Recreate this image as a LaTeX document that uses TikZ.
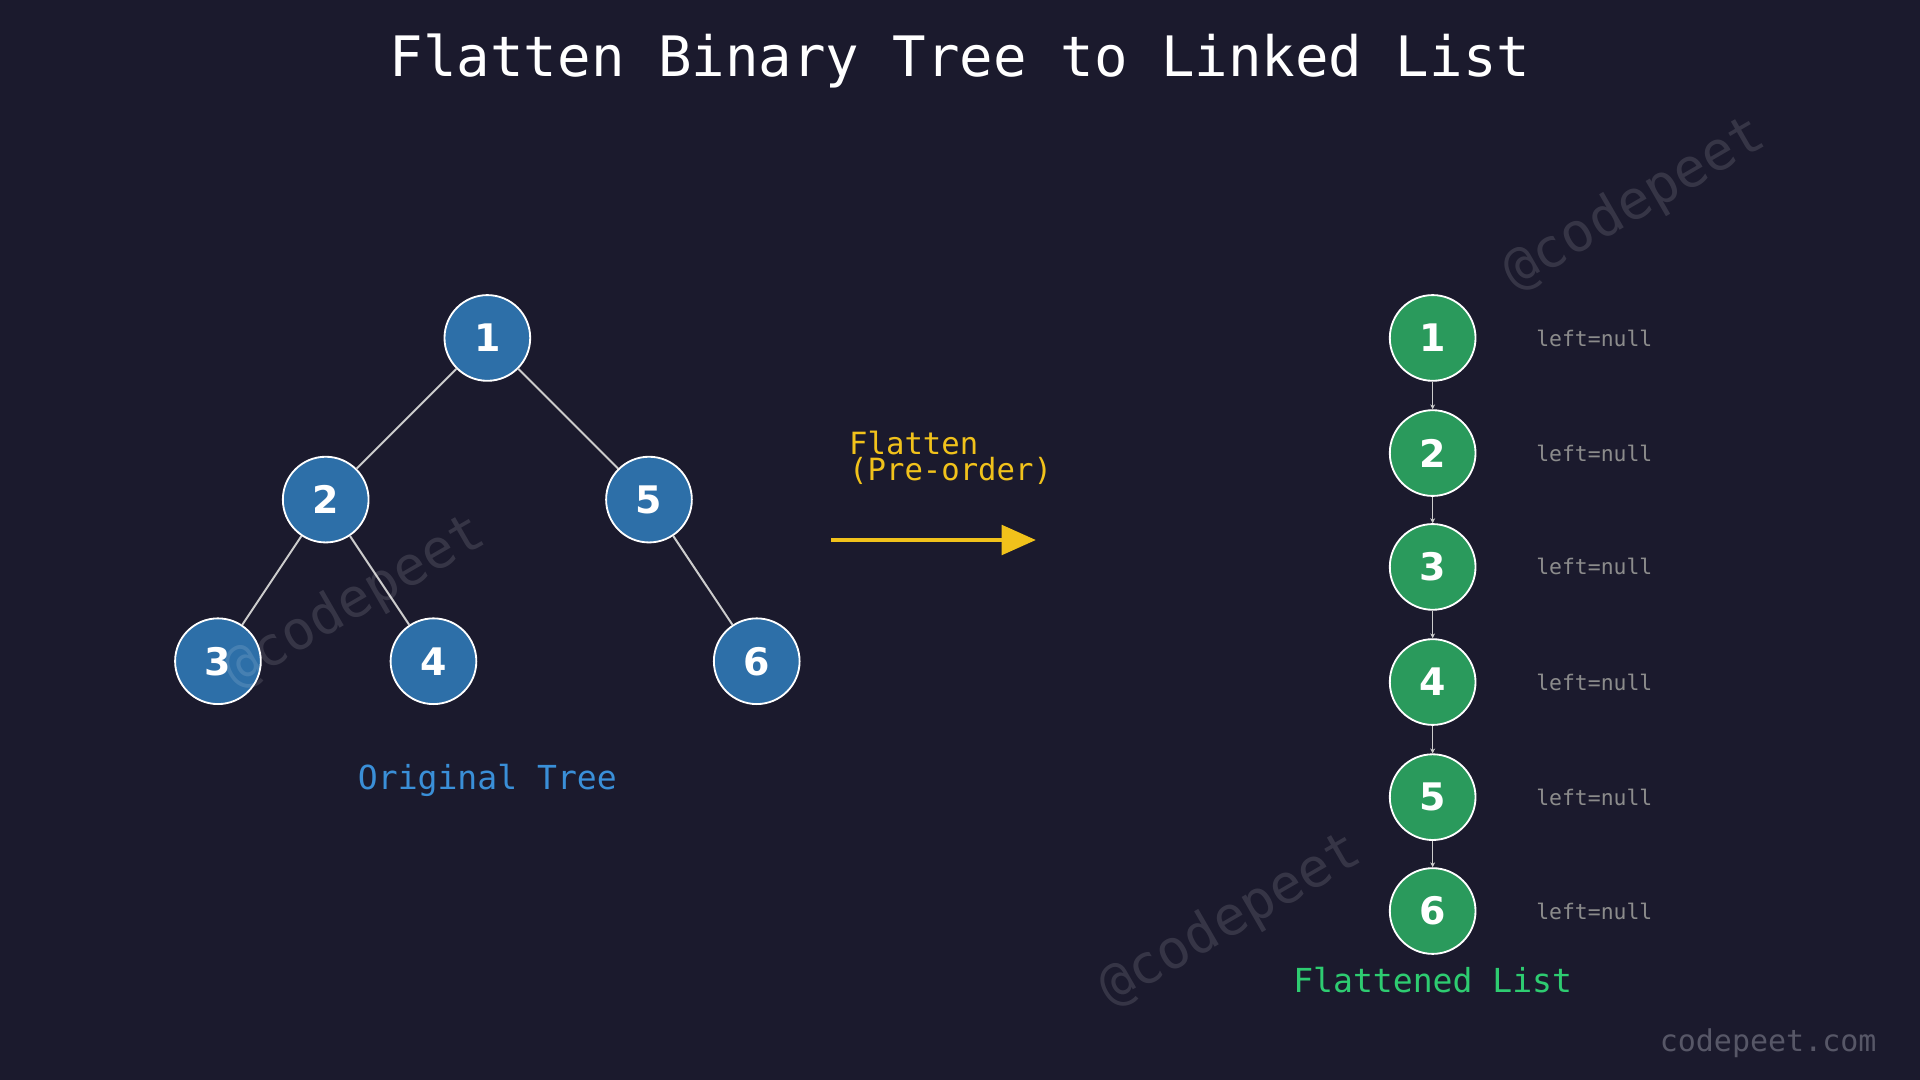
\documentclass[tikz,border=0pt]{standalone}
\usepackage{fontspec}
\setmonofont{DejaVu Sans Mono}
\setsansfont{DejaVu Sans}
\usetikzlibrary{arrows.meta}
\definecolor{bg}{HTML}{1B1A2D}
\definecolor{tblue}{HTML}{2D6FA8}
\definecolor{lgreen}{HTML}{2A9A5C}
\definecolor{ylw}{HTML}{F1C21B}
\definecolor{wm}{HTML}{3A3A4C}
\definecolor{otblue}{HTML}{3A8FD8}
\definecolor{flgreen}{HTML}{2ECC71}
\tikzset{
 tnode/.style={circle,draw=white,line width=1.5pt,fill=tblue,minimum size=70pt,inner sep=0pt,text=white,font=\sffamily\bfseries\fontsize{31}{31}\selectfont},
 lnode/.style={tnode,fill=lgreen},
 edge/.style={draw=white!80!black,line width=1.6pt},
 ledge/.style={draw=white!80!black,line width=0.8pt,-{Stealth[length=4pt,width=4pt]}},
 nul/.style={text=white!55!black,font=\ttfamily\fontsize{17.5}{17.5}\selectfont},
 wmark/.style={text=white,text opacity=0.12,rotate=30,font=\ttfamily\fontsize{44}{44}\selectfont}
}
\begin{document}
\begin{tikzpicture}[x=1pt,y=-1pt]
\fill[bg] (0,0) rectangle (1568,882);
\useasboundingbox (0,0) rectangle (1568,882);
\node[text=white,font=\ttfamily\fontsize{45.5}{45.5}\selectfont] (title) at (784,50) {Flatten Binary Tree to Linked List};
\node[tnode] (t1) at (398,276) {1};
\node[tnode] (t2) at (266,408) {2};
\node[tnode] (t5) at (530,408) {5};
\node[tnode] (t3) at (178,540) {3};
\node[tnode] (t4) at (354,540) {4};
\node[tnode] (t6) at (618,540) {6};
\draw[edge] (t1)--(t2); \draw[edge] (t1)--(t5);
\draw[edge] (t2)--(t3); \draw[edge] (t2)--(t4); \draw[edge] (t5)--(t6);
\node[text=otblue,font=\ttfamily\fontsize{27}{27}\selectfont] (ot) at (398,637) {Original Tree};
\node[text=ylw,font=\ttfamily\fontsize{25}{25}\selectfont,align=left,anchor=west] (fl) at (690,374) {Flatten\\[-4pt](Pre-order)};
\coordinate (a1) at (679,441); \coordinate (a2) at (846,441);
\draw[ylw,line width=3.5pt,-{Triangle[length=28pt,width=24pt]}] (a1)--(a2);
\foreach \n/\y in {1/276,2/370,3/463,4/557,5/651,6/744}{
 \node[lnode] (l\n) at (1170,\y) {\n};
 \node[nul] (n\n) at (1302,\y) {left=null};
}
\foreach \a/\b in {1/2,2/3,3/4,4/5,5/6}{\draw[ledge] (l\a)--(l\b);}
\node[text=flgreen,font=\ttfamily\fontsize{27}{27}\selectfont] (flt) at (1170,800) {Flattened List};
\node[text=wm!85!white,font=\ttfamily\fontsize{24.5}{24.5}\selectfont] (cp) at (1444,852) {codepeet.com};
\node[wmark] (w1) at (290,492) {@codepeet};
\node[wmark] (w2) at (1005,752) {@codepeet};
\node[wmark] (w3) at (1335,167) {@codepeet};
\end{tikzpicture}
\end{document}
